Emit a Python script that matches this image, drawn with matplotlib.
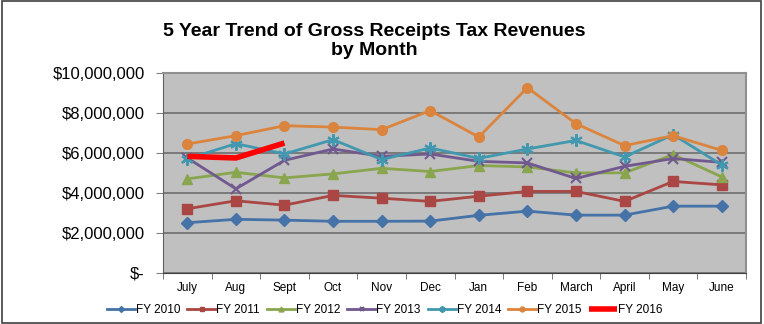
import matplotlib.pyplot as plt
from matplotlib.patches import Rectangle
from matplotlib.ticker import FuncFormatter

# Data (millions of dollars)
months = ['July', 'Aug', 'Sept', 'Oct', 'Nov', 'Dec', 'Jan', 'Feb', 'March', 'April', 'May', 'June']
fy2010 = [2.50, 2.67, 2.63, 2.57, 2.57, 2.58, 2.87, 3.08, 2.88, 2.88, 3.33, 3.33]
fy2011 = [3.20, 3.60, 3.38, 3.87, 3.73, 3.57, 3.83, 4.07, 4.07, 3.57, 4.57, 4.40]
fy2012 = [4.70, 5.03, 4.75, 4.95, 5.23, 5.07, 5.37, 5.30, 5.00, 5.00, 5.92, 4.80]
fy2013 = [5.75, 4.20, 5.63, 6.20, 5.83, 5.95, 5.58, 5.50, 4.72, 5.33, 5.72, 5.53]
fy2014 = [5.70, 6.47, 5.95, 6.67, 5.67, 6.25, 5.73, 6.20, 6.63, 5.80, 6.92, 5.40]
fy2015 = [6.45, 6.87, 7.37, 7.30, 7.17, 8.13, 6.80, 9.28, 7.47, 6.37, 6.87, 6.13]
fy2016 = [5.83, 5.75, 6.50]

series = [
    ('FY 2010', fy2010, '#4572A7', 'D', 6),
    ('FY 2011', fy2011, '#AA4643', 's', 7),
    ('FY 2012', fy2012, '#89A54E', '^', 7),
    ('FY 2013', fy2013, '#71588F', 'x', 7),
    ('FY 2014', fy2014, '#4198AF', (6, 2, 0), 9),
    ('FY 2015', fy2015, '#DB843D', 'o', 7),
]

plt.rcParams['font.family'] = ['Liberation Sans', 'DejaVu Sans']

fig = plt.figure(figsize=(7.64, 3.24), dpi=100)
ax = fig.add_axes([163 / 764, 1 - 272.5 / 324, (746 - 163) / 764, (272.5 - 73.3) / 324])
ax.set_facecolor('#C0C0C0')

x = list(range(len(months)))
for label, vals, color, marker, ms in series:
    mew = 1.5 if marker in ('x', (6, 2, 0)) else 1
    ax.plot(x, [v * 1e6 for v in vals], color=color, marker=marker, markersize=ms,
            markeredgewidth=mew, linewidth=2, label=label, zorder=3)
ax.plot(x[:len(fy2016)], [v * 1e6 for v in fy2016], color='#FF0000', linewidth=4,
        label='FY 2016', zorder=4, solid_capstyle='butt')

ax.set_xlim(-0.5, 11.5)
ax.set_ylim(0, 10e6)
ax.set_yticks([0, 2e6, 4e6, 6e6, 8e6, 10e6])
ax.yaxis.set_major_formatter(FuncFormatter(lambda v, p: '$-' if v == 0 else '${:,.0f}'.format(v)))
ax.tick_params(axis='y', labelsize=12, length=5, direction='out', color='#808080', pad=8)
ax.grid(axis='y', color='#6E6E6E', linewidth=1.2, zorder=1)
ax.set_axisbelow(True)

ax.set_xticks(x)
ax.set_xticklabels(months)
ax.set_xticks([i - 0.5 for i in range(13)], minor=True)
ax.tick_params(axis='x', which='major', length=0, labelsize=8.5, pad=7)
ax.tick_params(axis='x', which='minor', length=4, direction='out', color='#606060')

for side in ['top', 'right']:
    ax.spines[side].set_color('#909090')
    ax.spines[side].set_linewidth(1.5)
ax.spines['left'].set_color('#606060')
ax.spines['bottom'].set_color('#404040')

fig.text(0.49, 0.93, '5 Year Trend of Gross Receipts Tax Revenues\nby Month', ha='center', va='top',
         fontsize=14, fontweight='bold', linespacing=1.15)

ax.legend(loc='upper center', bbox_to_anchor=(0.38, -0.105), ncol=7, frameon=False, fontsize=8.5,
          handlelength=2.4, handletextpad=0.05, columnspacing=0.6, markerscale=0.5)

fig.patches.append(Rectangle((0.002, 0.004), 0.994, 0.992, transform=fig.transFigure,
                             fill=False, edgecolor='#404040', linewidth=1.2))

fig.savefig('out.png', dpi=100)
